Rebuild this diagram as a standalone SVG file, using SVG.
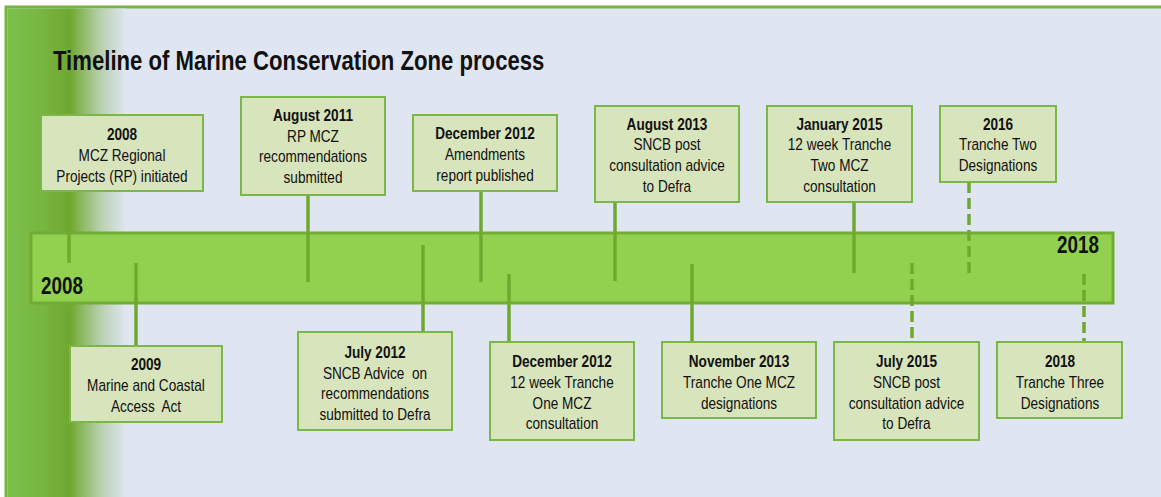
<svg xmlns="http://www.w3.org/2000/svg" width="1161" height="497" viewBox="0 0 1161 497">
<defs>
<linearGradient id="lg" x1="7" y1="0" x2="126" y2="0" gradientUnits="userSpaceOnUse">
<stop offset="0" stop-color="#7cc04c"/>
<stop offset="0.3" stop-color="#77b640"/>
<stop offset="0.53" stop-color="#6fa72f"/>
<stop offset="0.6" stop-color="#84b452"/>
<stop offset="0.78" stop-color="#b7cfac"/>
<stop offset="1" stop-color="#dfe6f1"/>
</linearGradient>
<style>
.box{fill:#d8e4bc;stroke:#7ab648;stroke-width:2}
.t{font-family:"Liberation Sans",Arial,sans-serif;font-size:16px;fill:#111;text-anchor:middle}
.b{font-weight:bold}
.con line{stroke:#6fa82f;stroke-width:3.5}
.con line.d{stroke-dasharray:11 5}
.yr{font-family:"Liberation Sans",Arial,sans-serif;font-size:23px;font-weight:bold;fill:#111}
</style>
</defs>
<rect x="0" y="0" width="1161" height="497" fill="#ffffff"/>
<rect x="6" y="7" width="1170" height="500" fill="#dfe6f1" stroke="#77b43e" stroke-width="3"/>
<rect x="7.5" y="8.5" width="119" height="490" fill="url(#lg)"/>
<text transform="translate(53,70) scale(0.82,1)" x="0" y="0" font-family="Liberation Sans, Arial, sans-serif" font-size="27" font-weight="bold" fill="#111">Timeline of Marine Conservation Zone process</text>

<g id="timeline-bar">
<rect x="31" y="233" width="1082" height="70" fill="#92d050" stroke="#72ac33" stroke-width="3"/>
<text class="yr" transform="translate(41,294) scale(0.82,1)">2008</text>
<text class="yr" transform="translate(1057,253) scale(0.82,1)">2018</text>
</g>

<g id="connectors" class="con">
<line x1="69" y1="191" x2="69" y2="263"/>
<line x1="308" y1="195" x2="308" y2="282"/>
<line x1="481" y1="191" x2="481" y2="282"/>
<line x1="615" y1="202" x2="615" y2="281"/>
<line x1="854" y1="202" x2="854" y2="273"/>
<line class="d" x1="969" y1="182" x2="969" y2="273"/>
<line x1="136" y1="263" x2="136" y2="346"/>
<line x1="423" y1="245" x2="423" y2="332"/>
<line x1="509" y1="274" x2="509" y2="342"/>
<line x1="692" y1="264" x2="692" y2="342"/>
<line class="d" x1="912" y1="263" x2="912" y2="342"/>
<line class="d" x1="1084" y1="274" x2="1084" y2="342"/>
</g>

<g id="n2008">
<rect class="box" x="41" y="115" width="162" height="76"/>
<g transform="translate(122,0) scale(0.85,1)">
<text class="t b" x="0" y="140">2008</text>
<text class="t" x="0" y="161">MCZ Regional</text>
<text class="t" x="0" y="182">Projects (RP) initiated</text>
</g>
</g>

<g id="naug2011">
<rect class="box" x="241" y="97" width="144" height="98"/>
<g transform="translate(313,0) scale(0.85,1)">
<text class="t b" x="0" y="121">August 2011</text>
<text class="t" x="0" y="142">RP MCZ</text>
<text class="t" x="0" y="162">recommendations</text>
<text class="t" x="0" y="183">submitted</text>
</g>
</g>

<g id="ndec2012a">
<rect class="box" x="413" y="115" width="144" height="76"/>
<g transform="translate(485,0) scale(0.85,1)">
<text class="t b" x="0" y="139">December 2012</text>
<text class="t" x="0" y="160">Amendments</text>
<text class="t" x="0" y="181">report published</text>
</g>
</g>

<g id="naug2013">
<rect class="box" x="595" y="106" width="144" height="96"/>
<g transform="translate(667,0) scale(0.85,1)">
<text class="t b" x="0" y="130">August 2013</text>
<text class="t" x="0" y="150">SNCB post</text>
<text class="t" x="0" y="171">consultation advice</text>
<text class="t" x="0" y="192">to Defra</text>
</g>
</g>

<g id="njan2015">
<rect class="box" x="767" y="106" width="145" height="96"/>
<g transform="translate(839.5,0) scale(0.85,1)">
<text class="t b" x="0" y="130">January 2015</text>
<text class="t" x="0" y="150">12 week Tranche</text>
<text class="t" x="0" y="171">Two MCZ</text>
<text class="t" x="0" y="192">consultation</text>
</g>
</g>

<g id="n2016">
<rect class="box" x="940" y="106" width="116" height="76"/>
<g transform="translate(998,0) scale(0.85,1)">
<text class="t b" x="0" y="130">2016</text>
<text class="t" x="0" y="150">Tranche Two</text>
<text class="t" x="0" y="171">Designations</text>
</g>
</g>

<g id="n2009">
<rect class="box" x="70" y="346" width="152" height="76"/>
<g transform="translate(146,0) scale(0.85,1)">
<text class="t b" x="0" y="370">2009</text>
<text class="t" x="0" y="391">Marine and Coastal</text>
<text class="t" x="0" y="412" xml:space="preserve">Access  Act</text>
</g>
</g>

<g id="njul2012">
<rect class="box" x="298" y="332" width="154" height="98"/>
<g transform="translate(375,0) scale(0.85,1)">
<text class="t b" x="0" y="358">July 2012</text>
<text class="t" x="0" y="379" xml:space="preserve">SNCB Advice  on</text>
<text class="t" x="0" y="399">recommendations</text>
<text class="t" x="0" y="420">submitted to Defra</text>
</g>
</g>

<g id="ndec2012b">
<rect class="box" x="490" y="342" width="144" height="98"/>
<g transform="translate(562,0) scale(0.85,1)">
<text class="t b" x="0" y="367">December 2012</text>
<text class="t" x="0" y="388">12 week Tranche</text>
<text class="t" x="0" y="409">One MCZ</text>
<text class="t" x="0" y="429">consultation</text>
</g>
</g>

<g id="nnov2013">
<rect class="box" x="662" y="342" width="154" height="76"/>
<g transform="translate(739,0) scale(0.85,1)">
<text class="t b" x="0" y="367">November 2013</text>
<text class="t" x="0" y="388">Tranche One MCZ</text>
<text class="t" x="0" y="409">designations</text>
</g>
</g>

<g id="njul2015">
<rect class="box" x="834" y="342" width="145" height="98"/>
<g transform="translate(906.5,0) scale(0.85,1)">
<text class="t b" x="0" y="367">July 2015</text>
<text class="t" x="0" y="388">SNCB post</text>
<text class="t" x="0" y="409">consultation advice</text>
<text class="t" x="0" y="429">to Defra</text>
</g>
</g>

<g id="n2018">
<rect class="box" x="997" y="342" width="125" height="76"/>
<g transform="translate(1060,0) scale(0.85,1)">
<text class="t b" x="0" y="367">2018</text>
<text class="t" x="0" y="388">Tranche Three</text>
<text class="t" x="0" y="409">Designations</text>
</g>
</g>
</svg>
